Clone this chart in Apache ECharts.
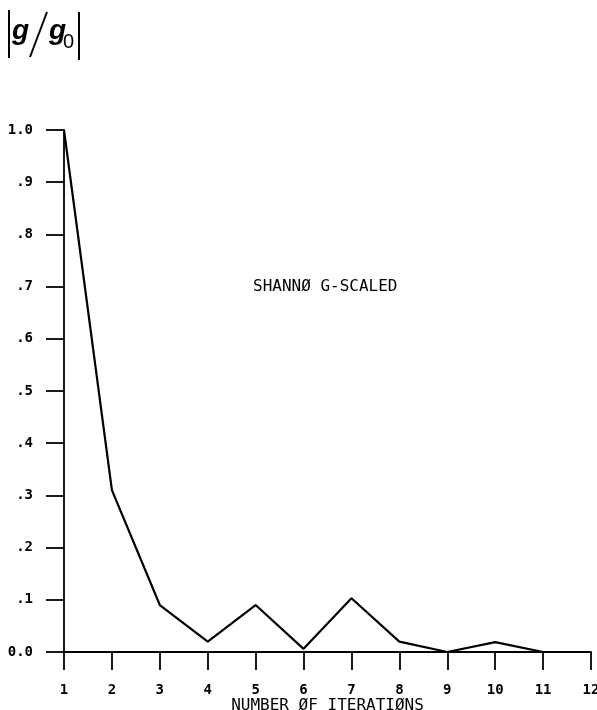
<!DOCTYPE html>
<html>
<head>
<meta charset="utf-8">
<script src="https://cdn.jsdelivr.net/npm/echarts@6/dist/echarts.min.js"></script>
<style>
  html, body { margin: 0; padding: 0; background: #fff; }
  #chart { width: 597px; height: 710px; }
</style>
</head>
<body>
<div id="chart"></div>
<script>
// Gradient norm ratio per iteration
const iterations = [1, 2, 3, 4, 5, 6, 7, 8, 9, 10, 11, 12];
const gradRatio = [1.0, 0.31, 0.09, 0.02, 0.09, 0.006, 0.103, 0.02, 0.0, 0.019, 0.0, 0.0];
const yTickLabels = ['0.0', '.1', '.2', '.3', '.4', '.5', '.6', '.7', '.8', '.9', '1.0'];
const xAxisTitle = 'NUMBER ØF ITERATIØNS';
const seriesNote = 'SHANNØ G-SCALED';

const mono = '"DejaVu Sans Mono", "Liberation Mono", monospace';
const ink = '#000';

const chart = echarts.init(document.getElementById('chart'), null, { renderer: 'canvas' });

chart.setOption({
  animation: false,
  backgroundColor: '#fff',
  grid: { left: 64, right: 6, top: 130, bottom: 58, containLabel: false, outerBoundsMode: 'none' },
  xAxis: {
    type: 'value',
    min: 1,
    max: 12,
    interval: 1,
    name: xAxisTitle,
    nameLocation: 'middle',
    nameGap: 46,
    nameMoveOverlap: false,
    nameTextStyle: { fontFamily: mono, fontSize: 16, color: ink, verticalAlign: 'top', padding: 0 },
    axisLine: { show: true, onZero: false, lineStyle: { color: ink, width: 1.8 } },
    axisTick: { show: true, length: 18, lineStyle: { color: ink, width: 1.8 } },
    axisLabel: { margin: 31, fontFamily: mono, fontWeight: 'bold', fontSize: 14, color: ink },
    splitLine: { show: false }
  },
  yAxis: {
    type: 'value',
    min: 0,
    max: 1,
    interval: 0.1,
    axisLine: { show: true, lineStyle: { color: ink, width: 1.8 } },
    axisTick: { show: true, length: 18, lineStyle: { color: ink, width: 1.8 } },
    axisLabel: {
      margin: 31,
      fontFamily: mono,
      fontWeight: 'bold',
      fontSize: 14,
      color: ink,
      formatter: function (v) {
        return yTickLabels[Math.round(v * 10)];
      }
    },
    splitLine: { show: false }
  },
  series: [{
    type: 'line',
    data: iterations.map((x, i) => [x, gradRatio[i]]),
    symbol: 'none',
    lineStyle: { color: ink, width: 2.2 },
    clip: false
  }],
  graphic: [
    // |g / g0| quantity label
    { type: 'line', shape: { x1: 9, y1: 10, x2: 9, y2: 58 }, style: { stroke: ink, lineWidth: 2 } },
    { type: 'line', shape: { x1: 30, y1: 57, x2: 47, y2: 12 }, style: { stroke: ink, lineWidth: 2 } },
    { type: 'line', shape: { x1: 79, y1: 12, x2: 79, y2: 60 }, style: { stroke: ink, lineWidth: 2 } },
    { type: 'text', left: 12, top: 17, style: { text: 'g', font: 'italic bold 28px "Liberation Sans", Arial, sans-serif', fill: ink } },
    { type: 'text', left: 49, top: 17, style: { text: 'g', font: 'italic bold 28px "Liberation Sans", Arial, sans-serif', fill: ink } },
    { type: 'text', left: 63, top: 32, style: { text: '0', font: '20px "Liberation Sans", Arial, sans-serif', fill: ink } },
    // series annotation
    { type: 'text', left: 253, top: 279, style: { text: seriesNote, font: '16px ' + mono, fill: ink } }
  ]
});
</script>
</body>
</html>
